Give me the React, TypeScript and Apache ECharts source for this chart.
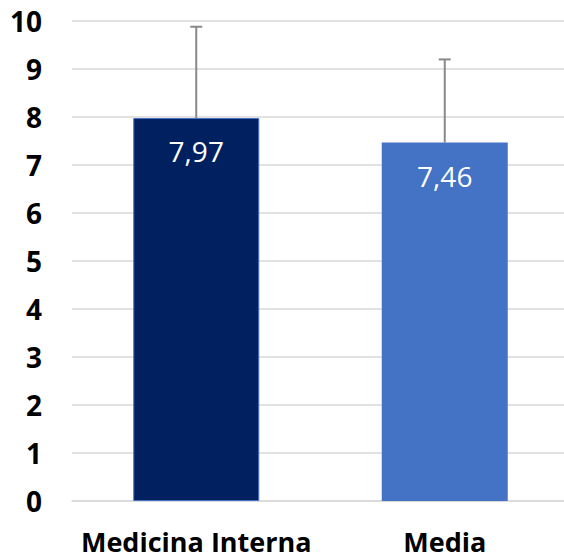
import React, { useEffect, useRef } from "react";
import * as echarts from "echarts";

const categories = ["Medicina Interna", "Media"];
const means = [7.97, 7.46];
const errorPlus = [1.9, 1.73];
const barColors = ["#002060", "#4472C4"];
const yTicks = { min: 0, max: 10, interval: 1 };

const FONT = "'Open Sans', 'Noto Sans', sans-serif";

export default function App() {
  const ref = useRef<HTMLDivElement>(null);
  useEffect(() => {
    if (!ref.current) return;
    const chart = echarts.init(ref.current, null, { renderer: "svg" });
    const errData = means.map((m, i) => [i, m, m + errorPlus[i]]);
    chart.setOption({
      animation: false,
      backgroundColor: "#ffffff",
      grid: { left: 72, right: 11, top: 20.5, bottom: 57, containLabel: false },
      xAxis: {
        type: "category",
        data: categories,
        axisLine: { show: true, lineStyle: { color: "#d9d9d9", width: 1.5 } },
        axisTick: { show: false },
        axisLabel: {
          interval: 0,
          color: "#000",
          fontFamily: FONT,
          fontWeight: "bold",
          fontSize: 27,
          lineHeight: 28,
          margin: 26,
        },
      },
      yAxis: {
        type: "value",
        min: yTicks.min,
        max: yTicks.max,
        interval: yTicks.interval,
        axisLine: { show: false },
        axisTick: { show: false },
        splitLine: { lineStyle: { color: "#d9d9d9", width: 1.5 } },
        axisLabel: {
          color: "#000",
          fontFamily: FONT,
          fontWeight: "bold",
          fontSize: 28,
          margin: 30,
        },
      },
      series: [
        {
          type: "bar",
          barWidth: 126,
          data: means.map((v, i) => ({
            value: v,
            itemStyle: {
              color: barColors[i],
              borderColor: "#4472C4",
              borderWidth: i === 0 ? 1 : 0,
            },
          })),
          label: {
            show: true,
            position: "insideTop",
            distance: 19,
            color: "#ffffff",
            fontFamily: FONT,
            fontSize: 28,
            lineHeight: 28,
            formatter: (p: any) => String(p.value.toFixed(2)).replace(".", ","),
          },
        },
        {
          type: "custom",
          data: errData,
          z: 5,
          renderItem: (params: any, api: any) => {
            const idx = api.value(0);
            const lo = api.coord([idx, api.value(1)]);
            const hi = api.coord([idx, api.value(2)]);
            const half = 6;
            const style = { stroke: "#898989", lineWidth: 2 };
            return {
              type: "group",
              children: [
                { type: "line", shape: { x1: lo[0], y1: lo[1], x2: hi[0], y2: hi[1] }, style },
                { type: "line", shape: { x1: hi[0] - half, y1: hi[1], x2: hi[0] + half, y2: hi[1] }, style },
              ],
            };
          },
        },
      ],
    });
    return () => chart.dispose();
  }, []);
  return (
    <div
      ref={ref}
      style={{ position: "fixed", left: 0, top: 0, width: 580, height: 558, background: "#fff" }}
    />
  );
}
